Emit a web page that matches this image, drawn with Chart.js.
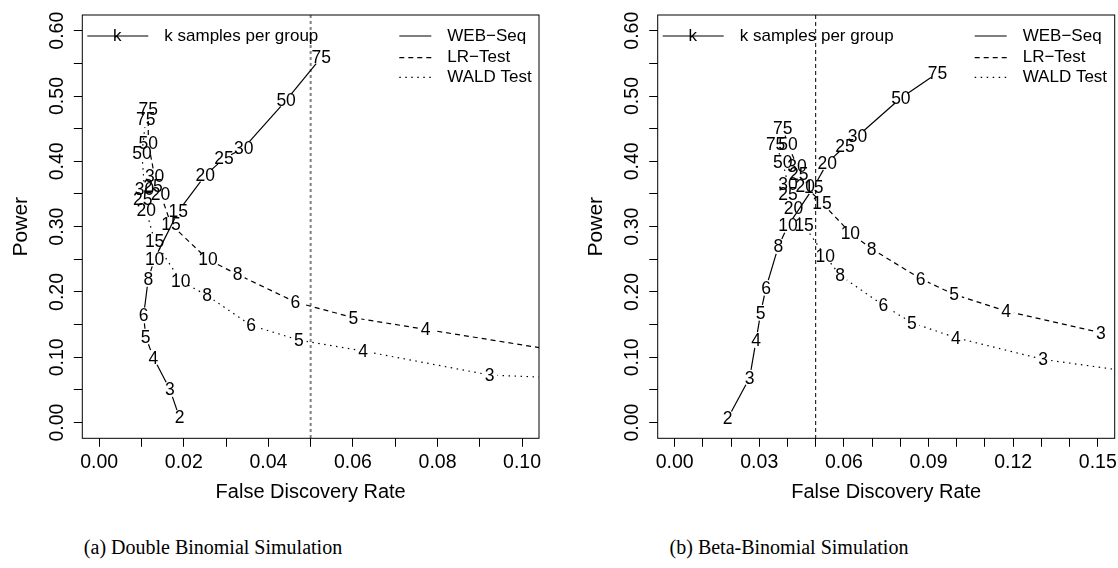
<!DOCTYPE html>
<html>
<head>
<meta charset="utf-8">
<script src="https://cdn.jsdelivr.net/npm/chart.js@4.4.0/dist/chart.umd.min.js"></script>
<style>
  body { margin: 0; background: #fff; width: 1118px; height: 568px; position: relative; overflow: hidden; }
  canvas { position: absolute; top: 0; }
  #chartA { left: 0; }
  #chartB { left: 575px; }
  .cap { position: absolute; top: 536px; font: 20px "Liberation Serif", "Times New Roman", serif; color: #000; white-space: nowrap; transform: translateX(-50%); }
</style>
</head>
<body>
<canvas id="chartA" width="559" height="520"></canvas>
<canvas id="chartB" width="543" height="520"></canvas>
<div class="cap" style="left:213px">(a) Double Binomial Simulation</div>
<div class="cap" style="left:789px">(b) Beta-Binomial Simulation</div>

<script>
// k = samples per group, used as the point labels
var kWeb = [2, 3, 4, 5, 6, 8, 10, 15, 20, 25, 30, 50, 75];
var kLr = [3, 4, 5, 6, 8, 10, 15, 20, 25, 30, 50, 75];
var kWald = [2, 3, 4, 5, 6, 8, 10, 15, 20, 25, 30, 50, 75];

// (a) Double Binomial: false discovery rate / power
var fdrWebA = [0.0190, 0.0167, 0.0128, 0.0110, 0.0105, 0.0116, 0.0131, 0.0187, 0.0251, 0.0295, 0.0342, 0.0442, 0.0525];
var powWebA = [0.0076, 0.0510, 0.0994, 0.1315, 0.1641, 0.2202, 0.2508, 0.3236, 0.3787, 0.4042, 0.4205, 0.4934, 0.5591];
var fdrLrA = [0.125, 0.0772, 0.0601, 0.0464, 0.0327, 0.0257, 0.0170, 0.0145, 0.0127, 0.0131, 0.0116, 0.0116];
var powLrA = [0.093, 0.1427, 0.1606, 0.1845, 0.2268, 0.2497, 0.3033, 0.3502, 0.3619, 0.3772, 0.4281, 0.4791];
var fdrWaldA = [0.160, 0.0923, 0.0624, 0.0472, 0.0359, 0.0255, 0.0193, 0.0131, 0.0111, 0.0103, 0.0107, 0.0101, 0.0110];
var powWaldA = [0.055, 0.0729, 0.1096, 0.1264, 0.1488, 0.1947, 0.2166, 0.2778, 0.3252, 0.3415, 0.3568, 0.4118, 0.4648];

// (b) Beta-Binomial
var fdrWebB = [0.0188, 0.0266, 0.0289, 0.0305, 0.0324, 0.0368, 0.0402, 0.0493, 0.0541, 0.0604, 0.0648, 0.0802, 0.0932];
var powWebB = [0.0061, 0.0688, 0.1264, 0.1682, 0.2064, 0.2701, 0.3017, 0.3603, 0.3976, 0.4230, 0.4383, 0.4969, 0.5352];
var fdrLrB = [0.1511, 0.1175, 0.0991, 0.0872, 0.0698, 0.0623, 0.0522, 0.0463, 0.0440, 0.0434, 0.0402, 0.0383];
var powLrB = [0.1376, 0.1707, 0.1962, 0.2202, 0.2661, 0.2905, 0.3364, 0.3619, 0.3797, 0.3925, 0.4256, 0.4511];
var fdrWaldB = [0.200, 0.1306, 0.0997, 0.0841, 0.0740, 0.0587, 0.0534, 0.0459, 0.0421, 0.0402, 0.0402, 0.0383, 0.0358];
var powWaldB = [0.055, 0.0968, 0.1300, 0.1529, 0.1794, 0.2253, 0.2548, 0.3017, 0.3287, 0.3502, 0.3644, 0.3991, 0.4256];

// axes
var yTicks = [0, 0.05, 0.1, 0.15, 0.2, 0.25, 0.3, 0.35, 0.4, 0.45, 0.5, 0.55, 0.6];
var yLabels = ['0.00', '', '0.10', '', '0.20', '', '0.30', '', '0.40', '', '0.50', '', '0.60'];
var xTicksA = [0, 0.01, 0.02, 0.03, 0.04, 0.05, 0.06, 0.07, 0.08, 0.09, 0.1];
var xLabelsA = ['0.00', '', '0.02', '', '0.04', '', '0.06', '', '0.08', '', '0.10'];
var xTicksB = [0, 0.01, 0.02, 0.03, 0.04, 0.05, 0.06, 0.07, 0.08, 0.09, 0.1, 0.11, 0.12, 0.13, 0.14, 0.15];
var xLabelsB = ['0.00', '', '', '0.03', '', '', '0.06', '', '', '0.09', '', '', '0.12', '', '', '0.15'];
var fdrCut = 0.05;

var seriesNames = ['WEB\u2212Seq', 'LR\u2212Test', 'WALD Test'];
var kLegend = 'k samples per group';

var SANS = '"Liberation Sans", Arial, Helvetica, sans-serif';
var dashes = [[], [5, 4], [1.5, 4.5]];

function pts(xs, ys) {
  return xs.map(function (x, i) { return { x: x, y: ys[i] }; });
}

// draws everything R would: box, labels, legend, gapped lines (type = "b")
function rDecor(p) {
  return {
    id: 'rdecor',
    afterDatasetsDraw: function (chart) {
      var ctx = chart.ctx, a = chart.chartArea;
      var xs = chart.scales.x;
      ctx.save();
      ctx.beginPath();
      ctx.rect(a.left, a.top, a.right - a.left, a.bottom - a.top);
      ctx.clip();

      // FDR = 0.05 line
      var vx = xs.getPixelForValue(fdrCut);
      ctx.strokeStyle = p.vColor;
      ctx.lineWidth = p.vWidth;
      ctx.setLineDash(p.vDash);
      ctx.beginPath();
      ctx.moveTo(vx, a.top);
      ctx.lineTo(vx, a.bottom);
      ctx.stroke();

      var gap = 8;
      chart.data.datasets.forEach(function (ds, i) {
        var el = chart.getDatasetMeta(i).data;
        ctx.strokeStyle = '#000';
        ctx.lineWidth = 1.2;
        ctx.setLineDash(dashes[i]);
        for (var j = 0; j < el.length - 1; j++) {
          var s = el[j], e = el[j + 1];
          var dx = e.x - s.x, dy = e.y - s.y, d = Math.sqrt(dx * dx + dy * dy);
          if (d <= 2 * gap) continue;
          ctx.beginPath();
          ctx.moveTo(s.x + dx * gap / d, s.y + dy * gap / d);
          ctx.lineTo(e.x - dx * gap / d, e.y - dy * gap / d);
          ctx.stroke();
        }
        ctx.setLineDash([]);
        ctx.fillStyle = '#000';
        ctx.font = '17.5px ' + SANS;
        ctx.textAlign = 'center';
        ctx.textBaseline = 'middle';
        el.forEach(function (pt, j) {
          ctx.fillText(String(ds.kLabels[j]), pt.x, pt.y + 1);
        });
      });
      ctx.restore();
    },
    afterDraw: function (chart) {
      var ctx = chart.ctx, a = chart.chartArea;
      var xs = chart.scales.x, ys = chart.scales.y;
      ctx.save();
      ctx.strokeStyle = '#000';
      ctx.lineWidth = 1;
      ctx.setLineDash([]);
      ctx.strokeRect(a.left, a.top, a.right - a.left, a.bottom - a.top);

      ctx.fillStyle = '#000';
      ctx.font = '19.5px ' + SANS;
      ctx.textAlign = 'center';
      ctx.textBaseline = 'middle';
      p.xTicks.forEach(function (v, i) {
        if (p.xLabels[i]) ctx.fillText(p.xLabels[i], xs.getPixelForValue(v), a.bottom + 24);
      });
      yTicks.forEach(function (v, i) {
        if (!yLabels[i]) return;
        ctx.save();
        ctx.translate(a.left - 25, ys.getPixelForValue(v));
        ctx.rotate(-Math.PI / 2);
        ctx.fillText(yLabels[i], 0, 0);
        ctx.restore();
      });

      ctx.font = '20px ' + SANS;
      ctx.fillText('False Discovery Rate', (a.left + a.right) / 2, a.bottom + 54);
      ctx.save();
      ctx.translate(a.left - 61, (a.top + a.bottom) / 2);
      ctx.rotate(-Math.PI / 2);
      ctx.font = '21px ' + SANS;
      ctx.fillText('Power', 0, 0);
      ctx.restore();

      // legends
      ctx.font = '17px ' + SANS;
      var ly = a.top + 21;
      ctx.lineWidth = 1.2;
      ctx.beginPath();
      ctx.moveTo(a.left + 5, ly);
      ctx.lineTo(a.left + 66, ly);
      ctx.stroke();
      ctx.fillText('k', a.left + 35, ly);
      ctx.textAlign = 'left';
      ctx.fillText(kLegend, a.left + 82, ly);

      var rows = [a.top + 21, a.top + 42.7, a.top + 62.3];
      seriesNames.forEach(function (name, i) {
        ctx.setLineDash(dashes[i]);
        ctx.beginPath();
        ctx.moveTo(a.left + 317, rows[i]);
        ctx.lineTo(a.left + 349, rows[i]);
        ctx.stroke();
        ctx.setLineDash([]);
        ctx.fillText(name, a.left + 365, rows[i]);
      });
      ctx.restore();
    }
  };
}

function makePanel(id, p, sets) {
  var ctx = document.getElementById(id).getContext('2d');
  return new Chart(ctx, {
    type: 'scatter',
    data: {
      datasets: sets.map(function (s) {
        return { label: s.name, data: s.data, kLabels: s.k, pointRadius: 0, pointHoverRadius: 0, showLine: false };
      })
    },
    options: {
      responsive: false,
      animation: false,
      events: [],
      layout: { padding: { left: 0, right: p.padRight, top: 15, bottom: 0 } },
      plugins: { legend: { display: false }, tooltip: { enabled: false } },
      scales: {
        x: {
          type: 'linear', min: p.xMin, max: p.xMax,
          afterBuildTicks: function (s) { s.ticks = p.xTicks.map(function (v) { return { value: v }; }); },
          afterFit: function (s) { s.height = 81.7; },
          ticks: { display: false, autoSkip: false },
          grid: { drawOnChartArea: false, drawTicks: true, tickLength: 8.5, color: '#000', lineWidth: 1 },
          border: { display: false }
        },
        y: {
          type: 'linear', min: -0.024, max: 0.624,
          afterBuildTicks: function (s) { s.ticks = yTicks.map(function (v) { return { value: v }; }); },
          afterFit: function (s) { s.width = p.yWidth; },
          ticks: { display: false, autoSkip: false },
          grid: { drawOnChartArea: false, drawTicks: true, tickLength: 8.5, color: '#000', lineWidth: 1 },
          border: { display: false }
        }
      }
    },
    plugins: [rDecor(p)]
  });
}

makePanel('chartA', {
  xMin: -0.004, xMax: 0.104, xTicks: xTicksA, xLabels: xLabelsA,
  padRight: 20, yWidth: 82.3,
  vColor: '#808080', vWidth: 2, vDash: [3, 3]
}, [
  { name: seriesNames[0], data: pts(fdrWebA, powWebA), k: kWeb },
  { name: seriesNames[1], data: pts(fdrLrA, powLrA), k: kLr },
  { name: seriesNames[2], data: pts(fdrWaldA, powWaldA), k: kWald }
]);

makePanel('chartB', {
  xMin: -0.006, xMax: 0.156, xTicks: xTicksB, xLabels: xLabelsB,
  padRight: 3.3, yWidth: 82.7,
  vColor: '#000', vWidth: 1, vDash: [4, 3]
}, [
  { name: seriesNames[0], data: pts(fdrWebB, powWebB), k: kWeb },
  { name: seriesNames[1], data: pts(fdrLrB, powLrB), k: kLr },
  { name: seriesNames[2], data: pts(fdrWaldB, powWaldB), k: kWald }
]);
</script>
</body>
</html>
